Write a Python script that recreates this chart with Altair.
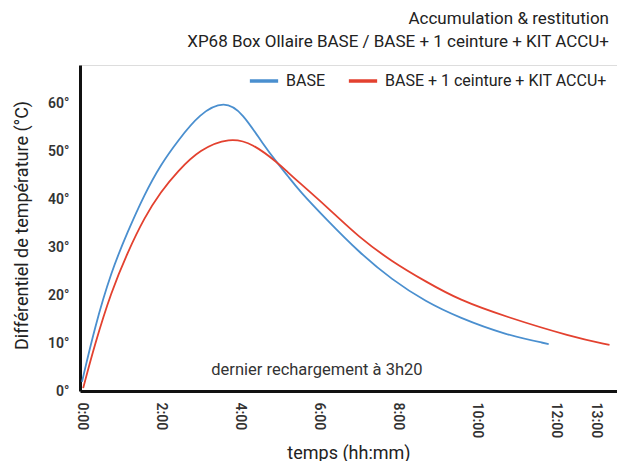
import altair as alt
import pandas as pd

# --- data ---
base_hours = [0, 0.32, 0.74, 1.16, 1.58, 2.0, 2.42, 2.98, 3.61, 4.07, 4.58, 5.0, 5.2, 5.5,
              6.19, 7.02, 7.85, 8.71, 9.55, 10.73, 11.82]
base_vals = [1.9, 13.2, 24.9, 33.3, 41, 47.3, 52.1, 57.9, 60.6, 58, 51.5, 47, 45, 41.8,
             35.8, 28.9, 23.2, 18.6, 15.3, 11.7, 9.8]

kit_hours = [0.03, 0.32, 0.74, 1.16, 1.58, 2.0, 2.42, 2.98, 3.74, 4.32, 5.0, 5.2, 5.5,
             6.19, 7.02, 7.85, 8.71, 9.55, 10.73, 12.4, 13.36]
kit_vals = [0.6, 9.6, 20.7, 29, 36.2, 41.6, 45.8, 50.4, 52.9, 51.7, 47.3, 45.7, 43.5,
            38.5, 32, 27, 22.8, 19, 15.5, 11.3, 9.6]

series_names = ["BASE", "BASE + 1 ceinture + KIT ACCU+"]
series_colors = ["#4a8fcf", "#e3412f"]

x_ticks = [0, 2, 4, 6, 8, 10, 12, 13]
y_ticks = [0, 10, 20, 30, 40, 50, 60]

title_line1 = "Accumulation & restitution"
title_line2 = "XP68 Box Ollaire BASE / BASE + 1 ceinture + KIT ACCU+"
note_text = "dernier rechargement à 3h20"
note_pos = [5.95, 4.3]

rows = []
for h, v in zip(base_hours, base_vals):
    rows.append({"h": h, "v": v, "serie": series_names[0]})
for h, v in zip(kit_hours, kit_vals):
    rows.append({"h": h, "v": v, "serie": series_names[1]})
df = pd.DataFrame(rows)

FONT = "Roboto"

x_enc = alt.X(
    "h:Q",
    scale=alt.Scale(domain=[-0.05, 13.55], nice=False, zero=False),
    axis=alt.Axis(
        values=x_ticks,
        labelExpr="floor(datum.value) + ':00'",
        labelAngle=90,
        labelAlign="left",
        labelBaseline="middle",
        labelPadding=11,
        labelFontSize=14,
        labelFontWeight=600,
        labelColor="#333",
        ticks=False,
        grid=False,
        domainColor="#111",
        domainWidth=3,
        title="temps (hh:mm)",
        titleFontSize=18,
        titleFontWeight=400,
        titleColor="#222",
        titleY=62,
        titleBaseline="middle",
    ),
)
y_enc = alt.Y(
    "v:Q",
    scale=alt.Scale(domain=[0, 68], nice=False),
    axis=alt.Axis(
        values=y_ticks,
        labelExpr="datum.value + '°'",
        labelPadding=11,
        labelFontSize=14,
        labelFontWeight=600,
        labelColor="#333",
        ticks=False,
        grid=False,
        domainColor="#111",
        domainWidth=3,
        title="Différentiel de température (°C)",
        titleFontSize=18,
        titleFontWeight=400,
        titleColor="#222",
        titleX=-58,
        titleY=160,
        titleBaseline="middle",
    ),
)

lines = alt.Chart(df).mark_line(interpolate="basis", strokeWidth=1.8).encode(
    x=x_enc,
    y=y_enc,
    color=alt.Color(
        "serie:N",
        scale=alt.Scale(domain=series_names, range=series_colors),
        legend=alt.Legend(
            title=None,
            orient="none",
            legendX=168,
            legendY=0,
            direction="horizontal",
            symbolType="stroke",
            symbolStrokeWidth=3.5,
            symbolSize=800,
            labelFontSize=16,
            labelColor="#222",
            labelFont=FONT,
            labelLimit=0,
            columnPadding=16,
            labelOffset=6,
        ),
    ),
)

note_df = pd.DataFrame({"h": [note_pos[0]], "v": [note_pos[1]], "t": [note_text]})
note = alt.Chart(note_df).mark_text(fontSize=16.5, color="#333", font=FONT).encode(
    x="h:Q", y="v:Q", text="t:N"
)

chart = (
    alt.layer(lines, note)
    .properties(
        width=537,
        height=326,
        autosize=alt.AutoSizeParams(type="none"),
        padding={"left": 72, "top": 57, "right": 0, "bottom": 70},
        title=alt.TitleParams(
            text=title_line1,
            subtitle=title_line2,
            anchor="end",
            frame="group",
            fontSize=17,
            subtitleFontSize=17,
            fontWeight=400,
            color="#222",
            subtitleColor="#222",
            font=FONT,
            subtitleFont=FONT,
            dx=-8,
            offset=14,
            subtitlePadding=6,
        ),
    )
    .configure_view(stroke=None)
    .configure(font=FONT)
)

chart.save("out.html", embed_options={"renderer": "svg", "actions": False})
